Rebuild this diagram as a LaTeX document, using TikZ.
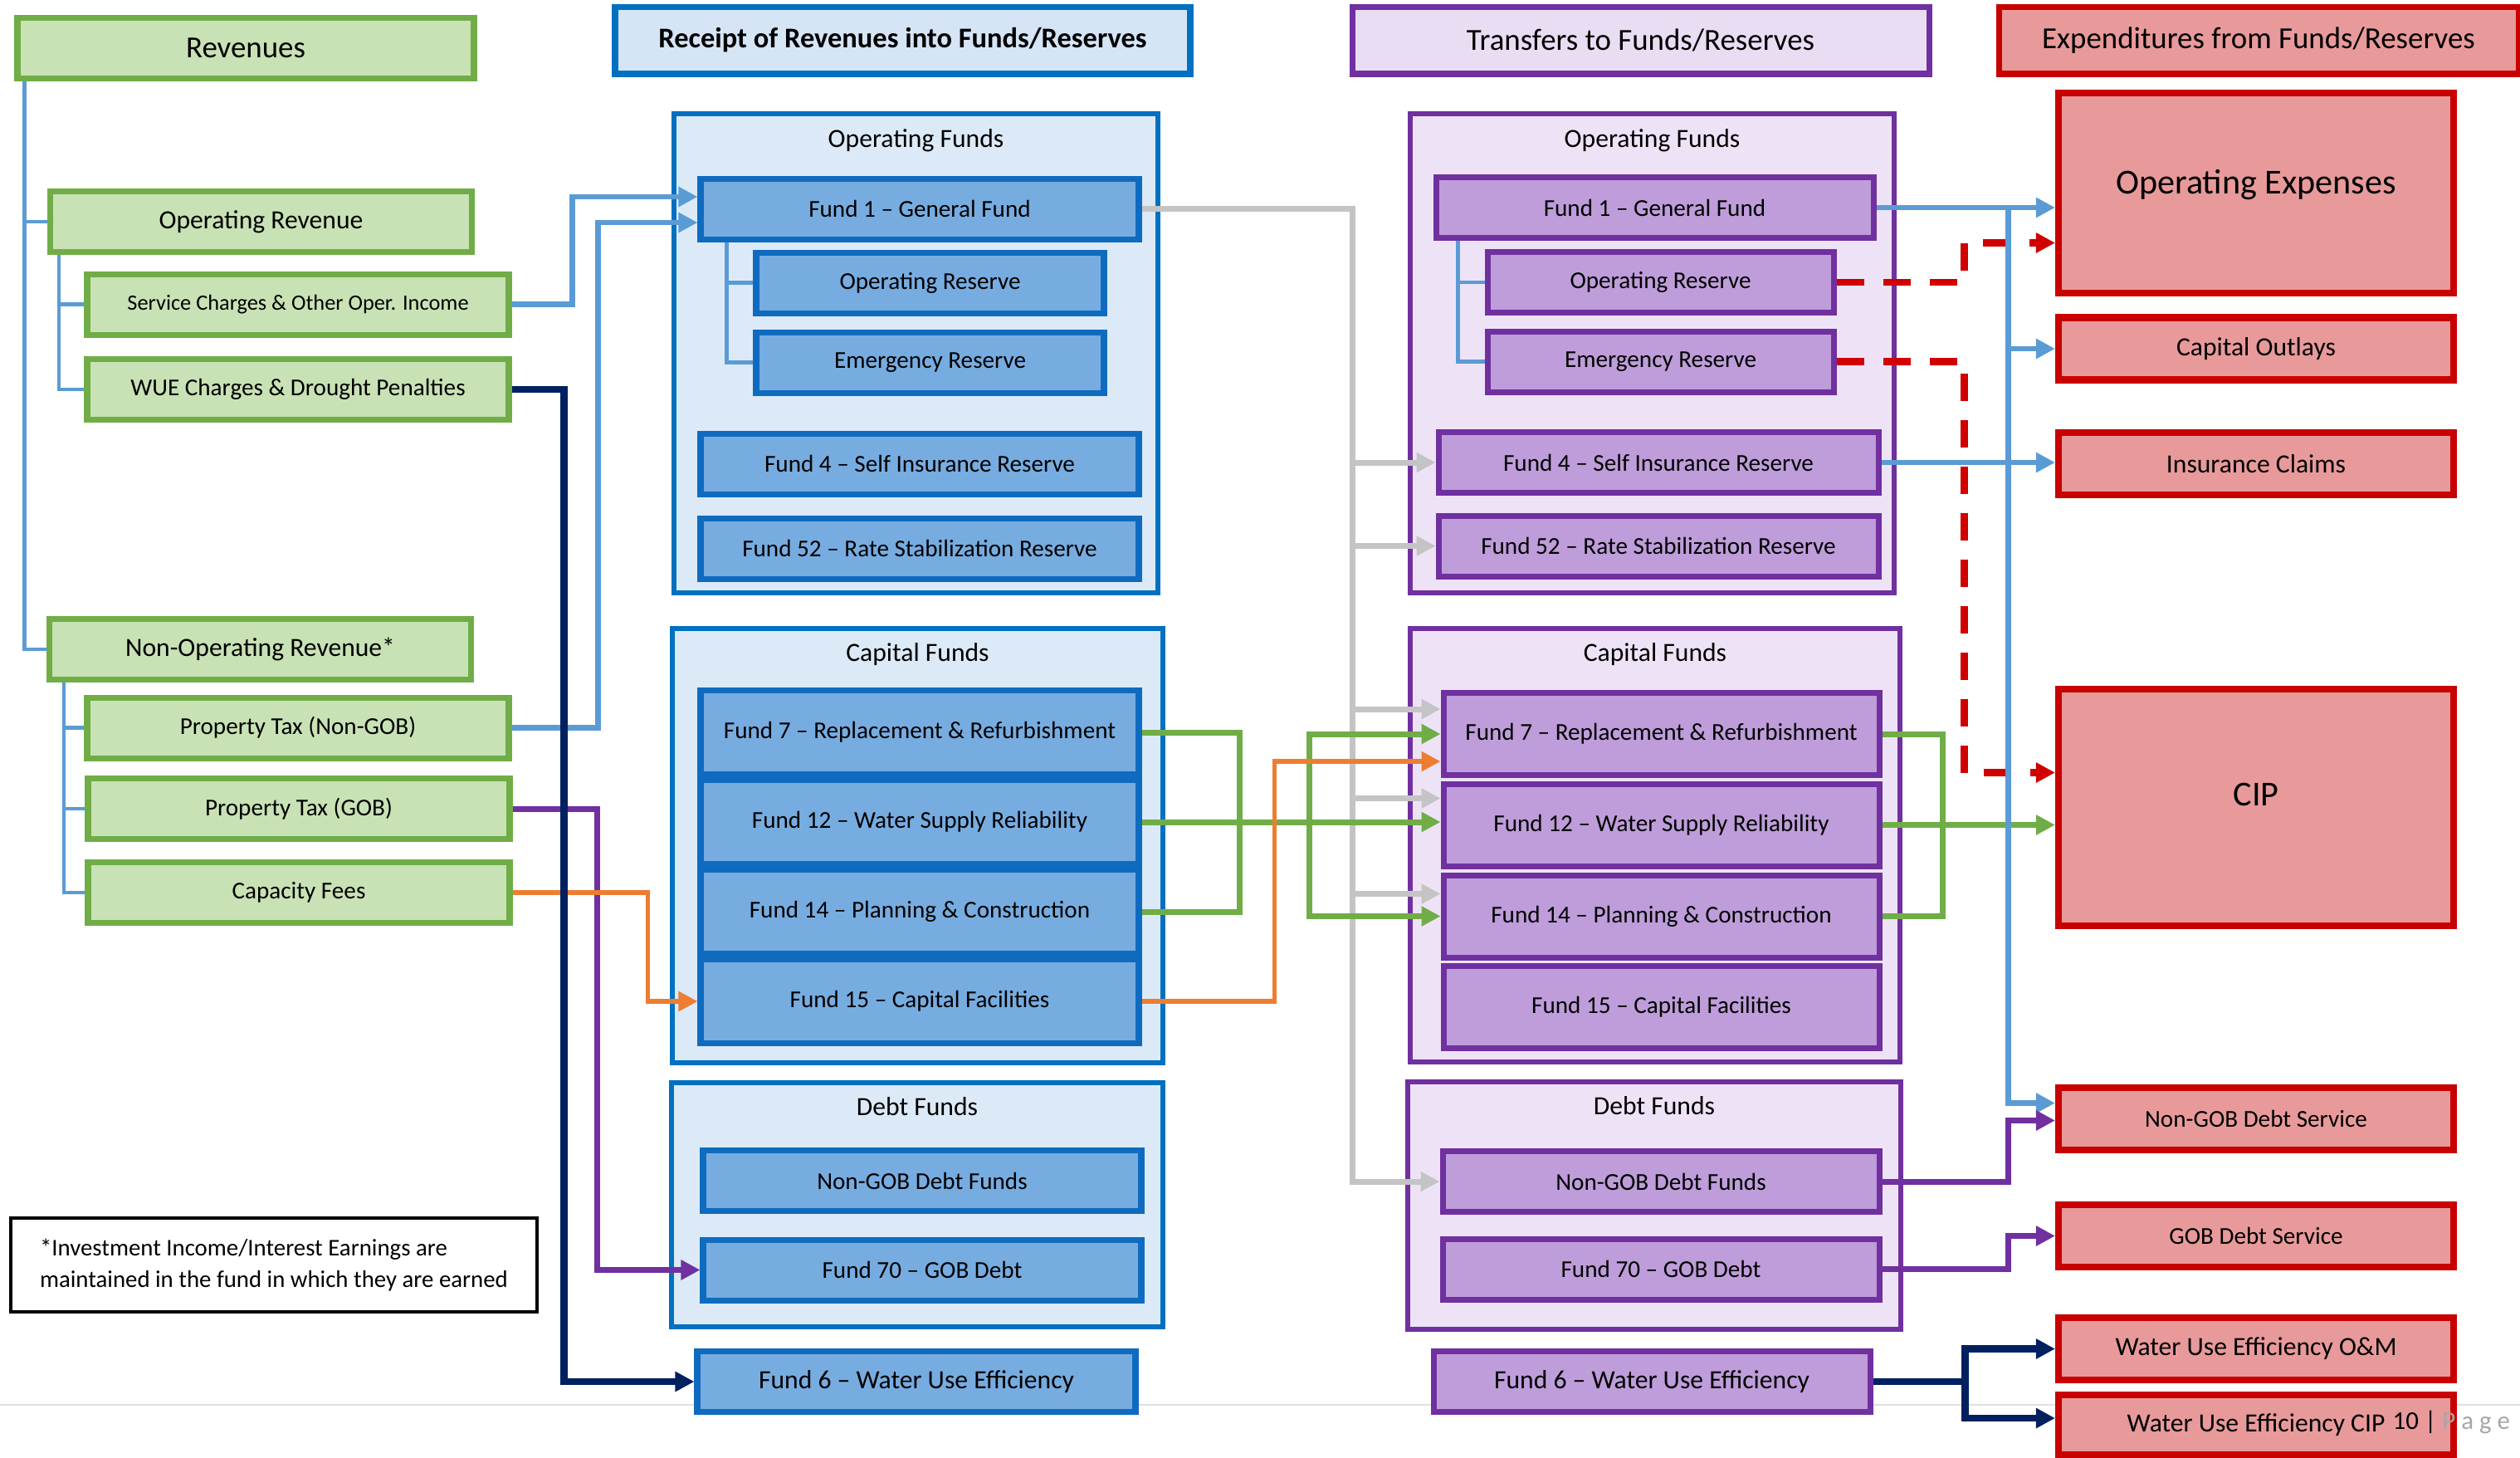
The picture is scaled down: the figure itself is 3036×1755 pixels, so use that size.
\documentclass[tikz,border=0pt]{standalone}
\usepackage{fontspec}
\setmainfont{Carlito}
\usepackage{tikz}
\usetikzlibrary{arrows.meta, positioning, calc}
\usepackage{xcolor}

\definecolor{revEdge}{HTML}{70AD47}
\definecolor{revFill}{HTML}{C8E2B5}
\definecolor{rcpEdge}{HTML}{0070C0}
\definecolor{rcpHead}{HTML}{D5E5F6}
\definecolor{rcpGrp}{HTML}{DCEAF7}
\definecolor{rcpFund}{HTML}{77ACE0}
\definecolor{rcpFundEdge}{HTML}{0F6BBF}
\definecolor{xfrEdge}{HTML}{7030A0}
\definecolor{xfrHead}{HTML}{E9DDF3}
\definecolor{xfrGrp}{HTML}{EEE3F6}
\definecolor{xfrFund}{HTML}{BE9DDA}
\definecolor{expEdge}{HTML}{C80000}
\definecolor{expFill}{HTML}{E89A9B}
\definecolor{lnBlue}{HTML}{5B9BD5}
\definecolor{lnGray}{HTML}{C4C4C4}
\definecolor{lnGreen}{HTML}{70AD47}
\definecolor{lnOrange}{HTML}{ED7D31}
\definecolor{lnNavy}{HTML}{002060}
\definecolor{lnPurple}{HTML}{7030A0}
\definecolor{lnRed}{HTML}{D00000}

\begin{document}
\begin{tikzpicture}[x=0.1mm, y=-0.1mm,
  every node/.style = {inner sep=0pt},
  hdr/.style     = {line width=2pt, minimum height=8.1mm, font=\fontsize{10.5}{12}\selectfont},
  revbox/.style  = {draw=revEdge, fill=revFill, line width=2pt, minimum width=50.8mm,
                    minimum height=7.3mm, font=\fontsize{8.3}{10}\selectfont},
  revmain/.style = {revbox, font=\fontsize{9}{11}\selectfont},
  grplbl/.style  = {font=\fontsize{9}{11}\selectfont},
  rcpgrp/.style  = {draw=rcpEdge, fill=rcpGrp, line width=1.7pt},
  rcpfund/.style = {draw=rcpFundEdge, fill=rcpFund, line width=2pt, minimum width=52.8mm,
                    minimum height=7.3mm, font=\fontsize{8.3}{10}\selectfont},
  xfrgrp/.style  = {draw=xfrEdge, fill=xfrGrp, line width=1.7pt},
  xfrfund/.style = {draw=xfrEdge, fill=xfrFund, line width=2pt, minimum width=53mm,
                    minimum height=7.3mm, font=\fontsize{8.3}{10}\selectfont},
  expbox/.style  = {draw=expEdge, fill=expFill, line width=2.3pt, minimum width=47.6mm,
                    minimum height=7.5mm, font=\fontsize{9}{11}\selectfont},
  tip/.style     = {-{Triangle[length=2.3mm, width=2.3mm]}},
  tree/.style    = {draw=lnBlue, line width=1.4pt},
  gline/.style   = {draw=lnGreen, line width=2pt},
  fblue/.style   = {tip, draw=lnBlue, line width=1.8pt},
  fgray/.style   = {tip, draw=lnGray, line width=2pt},
  fgreen/.style  = {tip, draw=lnGreen, line width=2pt},
  forange/.style = {tip, draw=lnOrange, line width=1.6pt},
  fnavy/.style   = {tip, draw=lnNavy, line width=2.3pt},
  fpurple/.style = {tip, draw=lnPurple, line width=2pt},
  fred/.style    = {tip, draw=lnRed, line width=2.3pt, dash pattern=on 3.3mm off 2.3mm},
]
\useasboundingbox (0,0) rectangle (3036,1755);
\fill[white] (0,0) rectangle (3036,1755);
\draw[black!12, line width=0.6pt] (0,1692) -- (3036,1692);

% ── Column headers ───────────────────────────────────────────────────────────
\node[hdr, draw=revEdge, fill=revFill, minimum width=55mm, minimum height=7.3mm] (hdRev) at (296,57.5) {Revenues};
\node[hdr, draw=rcpEdge, fill=rcpHead, minimum width=69.3mm,
      font=\fontsize{9.8}{12}\selectfont\bfseries] (hdRcp) at (1087.5,48.5) {Receipt of Revenues into Funds/Reserves};
\node[hdr, draw=xfrEdge, fill=xfrHead, minimum width=69.5mm] (hdXfr) at (1976.5,48.5) {Transfers to Funds/Reserves};
\node[hdr, draw=expEdge, fill=expFill, minimum width=62.6mm] (hdExp) at (2721,48.5) {Expenditures from Funds/Reserves};

% ── Revenues ─────────────────────────────────────────────────────────────────
\node[revmain] (opRev)  at (314.5,267) {Operating Revenue};
\node[revbox, font=\fontsize{7.5}{9}\selectfont] (svc) at (359,366.5) {Service Charges \& Other Oper. Income};
\node[revbox]  (wue)    at (359,469)   {WUE Charges \& Drought Penalties};
\node[revmain] (nonOp)  at (313.5,782) {Non-Operating Revenue*};
\node[revbox]  (ptNon)  at (359,876.5) {Property Tax (Non-GOB)};
\node[revbox]  (ptGob)  at (360,974)   {Property Tax (GOB)};
\node[revbox]  (capFee) at (360,1075)  {Capacity Fees};
\node[draw, line width=1pt, fill=white, minimum width=63.4mm, minimum height=11.3mm,
      align=left, font=\fontsize{8.2}{10.8}\selectfont] (note) at (330,1523.5)
      {*Investment Income/Interest Earnings are\\maintained in the fund in which they are earned};

% ── Receipt of revenues ──────────────────────────────────────────────────────
\node[rcpgrp, minimum width=58.3mm, minimum height=57.7mm] (rOpGrp) at (1103.5,425.5) {};
\node[grplbl, below=2.1mm of rOpGrp.north] (rOpLbl) {Operating Funds};
\node[rcpfund] (rF1) at (1108,251.5) {Fund 1 -- General Fund};
\node[rcpfund, minimum width=41.9mm] (rOpR) at (1120.5,340.5) {Operating Reserve};
\node[rcpfund, minimum width=41.9mm] (rEmR) at (1120.5,436.5) {Emergency Reserve};
\node[rcpfund] (rF4)  at (1108,558.5) {Fund 4 -- Self Insurance Reserve};
\node[rcpfund] (rF52) at (1108,660.5) {Fund 52 -- Rate Stabilization Reserve};

\node[rcpgrp, minimum width=59.1mm, minimum height=52.3mm] (rCapGrp) at (1105.5,1018.5) {};
\node[grplbl, below=2mm of rCapGrp.north] (rCapLbl) {Capital Funds};
\node[rcpfund, minimum height=10.1mm] (rF7)  at (1108,882)  {Fund 7 -- Replacement \& Refurbishment};
\node[rcpfund, minimum height=10.1mm] (rF12) at (1108,990)  {Fund 12 -- Water Supply Reliability};
\node[rcpfund, minimum height=10.1mm] (rF14) at (1108,1098) {Fund 14 -- Planning \& Construction};
\node[rcpfund, minimum height=10.1mm] (rF15) at (1108,1206) {Fund 15 -- Capital Facilities};

\node[rcpgrp, minimum width=59.2mm, minimum height=29.4mm] (rDebtGrp) at (1105,1451) {};
\node[grplbl, below=2mm of rDebtGrp.north] (rDebtLbl) {Debt Funds};
\node[rcpfund] (rNgd) at (1111,1422)   {Non-GOB Debt Funds};
\node[rcpfund] (rF70) at (1111,1529.5) {Fund 70 -- GOB Debt};
\node[rcpfund, font=\fontsize{9}{11}\selectfont] (rF6) at (1104,1664) {Fund 6 -- Water Use Efficiency};

% ── Transfers ────────────────────────────────────────────────────────────────
\node[xfrgrp, minimum width=58.3mm, minimum height=57.7mm] (tOpGrp) at (1990.5,425.5) {};
\node[grplbl, below=2.1mm of tOpGrp.north] (tOpLbl) {Operating Funds};
\node[xfrfund, minimum width=52.7mm] (tF1) at (1993.5,250) {Fund 1 -- General Fund};
\node[xfrfund, minimum width=41.7mm] (tOpR) at (2000.5,340)   {Operating Reserve};
\node[xfrfund, minimum width=41.7mm] (tEmR) at (2000.5,435.5) {Emergency Reserve};
\node[xfrfund] (tF4)  at (1998,557)   {Fund 4 -- Self Insurance Reserve};
\node[xfrfund] (tF52) at (1998,657.5) {Fund 52 -- Rate Stabilization Reserve};

\node[xfrgrp, minimum width=59mm, minimum height=52.2mm] (tCapGrp) at (1994,1018) {};
\node[grplbl, below=2mm of tCapGrp.north] (tCapLbl) {Capital Funds};
\node[xfrfund, minimum width=52.5mm, minimum height=9.9mm] (tF7)  at (2001.5,884)    {Fund 7 -- Replacement \& Refurbishment};
\node[xfrfund, minimum width=52.5mm, minimum height=9.9mm] (tF12) at (2001.5,993.5)  {Fund 12 -- Water Supply Reliability};
\node[xfrfund, minimum width=52.5mm, minimum height=9.9mm] (tF14) at (2001.5,1103.5) {Fund 14 -- Planning \& Construction};
\node[xfrfund, minimum width=52.5mm, minimum height=9.9mm] (tF15) at (2001.5,1213)   {Fund 15 -- Capital Facilities};

\node[xfrgrp, minimum width=59.4mm, minimum height=29.8mm] (tDebtGrp) at (1993,1452) {};
\node[grplbl, below=2mm of tDebtGrp.north] (tDebtLbl) {Debt Funds};
\node[xfrfund, minimum width=52.6mm] (tNgd) at (2001,1423)   {Non-GOB Debt Funds};
\node[xfrfund, minimum width=52.6mm] (tF70) at (2001,1528.5) {Fund 70 -- GOB Debt};
\node[xfrfund, minimum width=52.6mm, font=\fontsize{9}{11}\selectfont] (tF6) at (1990,1664) {Fund 6 -- Water Use Efficiency};

% ── Expenditures ─────────────────────────────────────────────────────────────
\node[expbox, minimum height=24.1mm, text depth=2.7mm, font=\fontsize{12}{14}\selectfont] (eOpx) at (2718,232.5) {Operating Expenses};
\node[expbox] (eCapO) at (2718,420)   {Capital Outlays};
\node[expbox] (eIns)  at (2718,558.5) {Insurance Claims};
\node[expbox, minimum height=28.5mm, text depth=3.2mm, font=\fontsize{12}{14}\selectfont] (eCip) at (2718,972.5) {CIP};
\node[expbox, font=\fontsize{8.3}{10}\selectfont] (eNgd) at (2718,1347.5) {Non-GOB Debt Service};
\node[expbox, font=\fontsize{8.3}{10}\selectfont] (eGob) at (2718,1488.5) {GOB Debt Service};
\node[expbox] (eWom)  at (2718,1624.5) {Water Use Efficiency O\&M};
\node[expbox, minimum height=7.2mm] (eWcip) at (2718,1716) {Water Use Efficiency CIP};
\node[anchor=west, font=\fontsize{8.8}{10}\selectfont] (pgNum) at (2882,1713) {10 | \textcolor{black!35}{P a g e}};

% ── Revenue trees ────────────────────────────────────────────────────────────
\draw[tree] ($(hdRev.south west)+(12,0)$) |- (opRev.west);
\draw[tree] ($(hdRev.south west)+(12,0)$) |- (nonOp.west);
\foreach \t in {svc, wue}
  \draw[tree] ($(opRev.south west)+(14,0)$) |- (\t.west);
\foreach \t in {ptNon, ptGob, capFee}
  \draw[tree] ($(nonOp.south west)+(21,0)$) |- (\t.west);
\foreach \t in {rOpR, rEmR}
  \draw[tree] ($(rF1.south west)+(35,0)$) |- (\t.west);
\foreach \t in {tOpR, tEmR}
  \draw[tree] ($(tF1.south west)+(30,0)$) |- (\t.west);

% ── Revenues into funds ──────────────────────────────────────────────────────
\draw[fblue]   (svc.east)    -- ++(73,0)  |- ($(rF1.west)+(0,-14.5)$);
\draw[fblue]   (ptNon.east)  -- ++(104,0) |- ($(rF1.west)+(0,16.5)$);
\draw[fpurple] (ptGob.east)  -- ++(102,0) |- (rF70.west);
\draw[forange] (capFee.east) -- ++(163,0) |- (rF15.west);
\draw[fnavy]   (wue.east)    -- ++(63,0)  |- (rF6.west);

% ── Transfers between funds ──────────────────────────────────────────────────
\foreach \t/\dy in {tF4/0, tF52/0, tF7/-30, tF12/-32, tF14/-27, tNgd/0}
  \draw[fgray] (rF1.east) -- ++(254,0) |- ($(\t.west)+(0,\dy)$);
\draw[gline]  (rF7.east) -- ++(118,0) |- (rF14.east);
\draw[fgreen] (rF12.east) -- (rF12.east -| tF12.west);
\draw[fgreen] ($(rF12.east)+(202,0)$) |- (tF7.west);
\draw[fgreen] ($(rF12.east)+(202,0)$) |- (tF14.west);
\draw[forange] (rF15.east) -- ++(160,0) |- ($(tF7.west)+(0,33)$);

% ── Expenditures from funds ──────────────────────────────────────────────────
\draw[fred] (tOpR.east) -- ++(154,0) |- ($(eOpx.west)+(0,60)$);
\draw[fred] (tEmR.east) -- ++(154,0) |- ($(eCip.west)+(0,-42)$);
\draw[gline]  (tF7.east) -- ++(73,0) |- (tF14.east);
\draw[fgreen] (tF12.east) -- (tF12.east -| eCip.west);
\draw[fblue] (tF1.east) -- (tF1.east -| eOpx.west);
\draw[fblue] (tF1.east) -- ++(159,0) |- (eCapO.west);
\draw[fblue] (tF1.east) -- ++(159,0) |- ($(eNgd.west)+(0,-19)$);
\draw[fblue] (tF4.east) -- (tF4.east -| eIns.west);
\draw[fpurple] (tNgd.east) -- ++(152,0) |- ($(eNgd.west)+(0,2)$);
\draw[fpurple] (tF70.east) -- ++(152,0) |- (eGob.west);
\draw[fnavy] (tF6.east) -- ++(111,0) |- (eWom.west);
\draw[fnavy] (tF6.east) -- ++(111,0) |- ($(eWcip.west)+(0,-8)$);
\end{tikzpicture}
\end{document}
